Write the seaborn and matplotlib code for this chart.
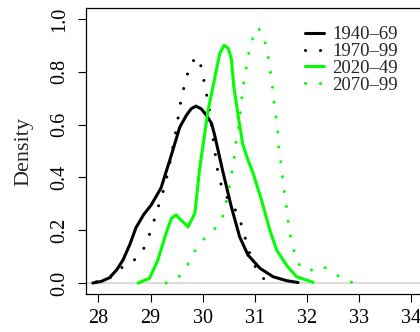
import matplotlib
matplotlib.use("Agg")
import matplotlib.pyplot as plt
import seaborn as sns

# density curves (temperature, density)
x_1940 = [27.89, 28.05, 28.21, 28.35, 28.47, 28.60, 28.72, 28.87, 29.01, 29.20, 29.37,
          29.56, 29.69, 29.78, 29.87, 29.97, 30.07, 30.17, 30.23, 30.39, 30.55, 30.71,
          30.87, 31.10, 31.35, 31.61, 31.83]
y_1940 = [0.000, 0.006, 0.020, 0.050, 0.087, 0.145, 0.210, 0.260, 0.295, 0.360, 0.466,
          0.590, 0.636, 0.660, 0.670, 0.660, 0.636, 0.605, 0.560, 0.420, 0.289, 0.175,
          0.106, 0.056, 0.024, 0.009, 0.002]

x_1970 = [27.96, 28.18, 28.35, 28.51, 28.71, 28.85, 28.93, 29.01, 29.14, 29.27, 29.37,
          29.49, 29.59, 29.69, 29.77, 29.89, 29.97, 30.06, 30.13, 30.20, 30.25, 30.28,
          30.33, 30.38, 30.49, 30.62, 30.71, 30.78, 30.83, 30.89, 31.06, 31.21]
y_1970 = [0.005, 0.014, 0.040, 0.070, 0.090, 0.122, 0.160, 0.200, 0.284, 0.365, 0.453,
          0.580, 0.700, 0.780, 0.830, 0.857, 0.820, 0.730, 0.655, 0.550, 0.478, 0.434,
          0.393, 0.352, 0.317, 0.280, 0.240, 0.200, 0.160, 0.119, 0.039, 0.009]

x_2020 = [28.76, 28.98, 29.14, 29.30, 29.40, 29.49, 29.60, 29.72, 29.85, 29.94, 30.10,
          30.23, 30.33, 30.41, 30.49, 30.55, 30.60, 30.68, 30.77, 30.87, 30.97, 31.13,
          31.29, 31.42, 31.61, 31.80, 32.12]
y_2020 = [0.000, 0.018, 0.087, 0.190, 0.245, 0.258, 0.235, 0.213, 0.264, 0.430, 0.650,
          0.775, 0.870, 0.900, 0.889, 0.850, 0.740, 0.636, 0.525, 0.466, 0.415, 0.314,
          0.200, 0.125, 0.068, 0.024, 0.003]

x_2070 = [29.30, 29.52, 29.69, 29.81, 29.97, 30.13, 30.29, 30.39, 30.44, 30.49, 30.53,
          30.56, 30.60, 30.62, 30.65, 30.69, 30.74, 30.76, 30.79, 30.83, 30.87, 30.90,
          30.97, 31.06, 31.16, 31.22, 31.26, 31.29, 31.32, 31.35, 31.37, 31.40, 31.43,
          31.45, 31.46, 31.49, 31.52, 31.54, 31.57, 31.60, 31.63, 31.65, 31.69, 31.74,
          31.80, 31.90, 32.00, 32.09, 32.20, 32.30, 32.49, 32.67, 32.87]
y_2070 = [0.000, 0.018, 0.060, 0.110, 0.155, 0.188, 0.216, 0.254, 0.295, 0.340, 0.380,
          0.420, 0.463, 0.510, 0.550, 0.590, 0.677, 0.720, 0.760, 0.807, 0.850, 0.890,
          0.930, 0.968, 0.940, 0.895, 0.853, 0.813, 0.770, 0.727, 0.684, 0.640, 0.600,
          0.558, 0.514, 0.472, 0.428, 0.386, 0.343, 0.300, 0.258, 0.216, 0.173, 0.131,
          0.090, 0.053, 0.047, 0.049, 0.058, 0.064, 0.043, 0.018, 0.002]

labels = ["1940\u201369", "1970\u201399", "2020\u201349", "2070\u201399"]
x_ticks = [28, 29, 30, 31, 32, 33, 34]
y_ticks = [0.0, 0.2, 0.4, 0.6, 0.8, 1.0]

sns.set_style("ticks")
plt.rcParams["font.family"] = ["Liberation Serif", "DejaVu Serif"]

fig = plt.figure(figsize=(4.2, 3.32), dpi=100)
ax = fig.add_axes([86 / 420, 1 - 293.6 / 332, 337.5 / 420, 285.2 / 332])

dots = (0, (0.01, 4.9))
lw = 2.2
common = dict(ax=ax, lw=lw, sort=False, estimator=None,
              solid_joinstyle="round", solid_capstyle="round")
sns.lineplot(x=x_1940, y=y_1940, color="black", label=labels[0], **common)
sns.lineplot(x=x_1970, y=y_1970, color="black", label=labels[1],
             linestyle=dots, dash_capstyle="round", **common)
sns.lineplot(x=x_2020, y=y_2020, color="#00ff00", label=labels[2], **common)
sns.lineplot(x=x_2070, y=y_2070, color="#00ff00", label=labels[3],
             linestyle=dots, dash_capstyle="round", **common)
ax.axhline(0, color="#d4d4d4", lw=1.2, zorder=1)

ax.set_xlim(27.76, 34.24)
ax.set_ylim(-0.04, 1.04)
ax.set_xticks(x_ticks)
ax.set_yticks(y_ticks)
ax.set_xticklabels([str(v) for v in x_ticks])
ax.set_yticklabels([f"{v:.1f}" for v in y_ticks], rotation=90, va="center")
ax.tick_params(direction="out", length=6, width=0.8, labelsize=14.5, colors="black")
ax.tick_params(axis="x", pad=5)
ax.tick_params(axis="y", pad=6)
for s in ax.spines.values():
    s.set_linewidth(0.9)
    s.set_color("black")

ax.set_xlabel("")
ax.set_ylabel("Density", fontsize=16)
ax.yaxis.set_label_coords(-0.185, 0.5)
ax.yaxis.label.set_va("center")

leg = ax.legend(loc="upper left", bbox_to_anchor=(0.649, 0.937), frameon=False,
                fontsize=13.5, handlelength=1.0, handletextpad=0.45,
                labelspacing=-0.02, borderpad=0, borderaxespad=0)

fig.savefig("out.png", dpi=100)
